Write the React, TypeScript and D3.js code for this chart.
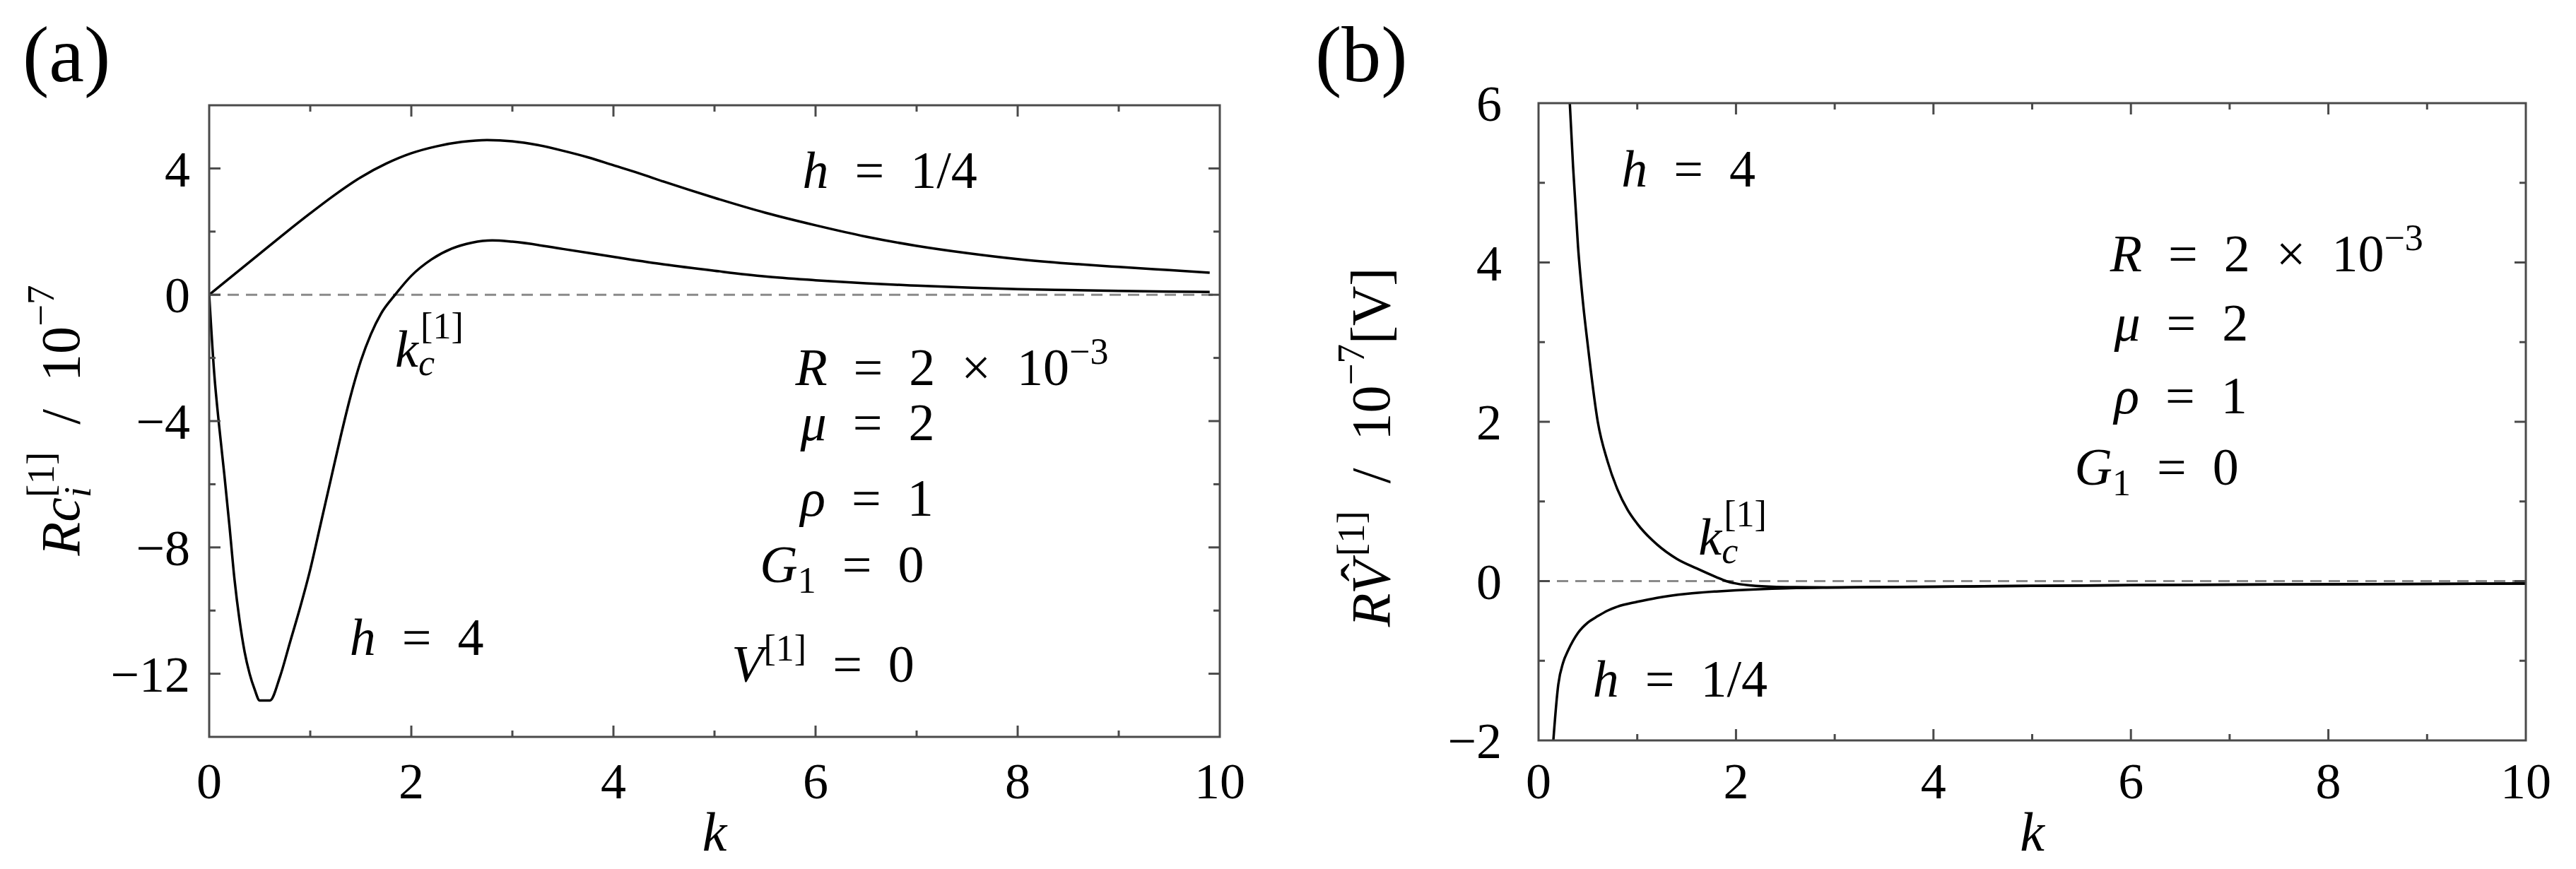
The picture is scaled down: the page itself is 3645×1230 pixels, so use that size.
import React from 'react';
import * as d3 from 'd3';

// axis ticks
const kTicks = [0, 2, 4, 6, 8, 10];
const kMinor = [1, 3, 5, 7, 9];
const aTicks = [4, 0, -4, -8, -12];
const aMinor = [2, -2, -6, -10];
const bTicks = [6, 4, 2, 0, -2];
const bMinor = [5, 3, 1, -1];

// (a) R c_i^[1] / 1e-7, h = 1/4
const kA1 = [0, 0.25, 0.5, 0.75, 1, 1.25, 1.5, 1.75, 2, 2.25, 2.5, 2.75, 3, 3.25, 3.5, 3.75, 4, 4.25, 4.5, 5, 5.5, 6, 6.5, 7, 7.5, 8, 8.5, 9, 9.5, 9.9];
const cA1 = [0, 0.65, 1.3, 1.95, 2.58, 3.18, 3.72, 4.15, 4.48, 4.7, 4.84, 4.9, 4.86, 4.74, 4.56, 4.35, 4.1, 3.85, 3.58, 3.07, 2.6, 2.2, 1.84, 1.55, 1.32, 1.13, 0.99, 0.88, 0.78, 0.7];

// (a) h = 4
const kA4 = [0, 0.05, 0.1, 0.15, 0.2, 0.25, 0.3, 0.35, 0.4, 0.45, 0.5, 0.6, 0.7, 0.8, 0.9, 1, 1.1, 1.2, 1.3, 1.4, 1.5, 1.6, 1.7, 1.84, 2, 2.2, 2.4, 2.6, 2.8, 3, 3.5, 4, 4.5, 5, 5.5, 6, 6.5, 7, 7.5, 8, 8.5, 9, 9.5, 9.9];
const cA4 = [0, -2.5, -4.2, -5.7, -7.3, -9.0, -10.3, -11.3, -12.0, -12.5, -12.85, -12.85, -12.1, -11.0, -9.9, -8.7, -7.3, -5.9, -4.5, -3.2, -2.1, -1.25, -0.6, 0, 0.6, 1.12, 1.46, 1.65, 1.72, 1.68, 1.45, 1.2, 0.96, 0.76, 0.58, 0.46, 0.36, 0.29, 0.23, 0.18, 0.15, 0.12, 0.1, 0.09];

// (b) R V^[1] / 1e-7, h = 4
const kB4 = [0.3, 0.35, 0.4, 0.45, 0.5, 0.6, 0.7, 0.8, 0.9, 1, 1.2, 1.4, 1.6, 1.8, 1.9, 2, 2.2, 2.5, 3, 4, 5, 6, 7, 8, 9, 10];
const vB4 = [6.4, 5.2, 4.2, 3.5, 2.95, 2.0, 1.5, 1.15, 0.9, 0.72, 0.46, 0.28, 0.16, 0.05, 0.0, -0.03, -0.06, -0.075, -0.08, -0.07, -0.06, -0.05, -0.045, -0.04, -0.035, -0.03];

// (b) h = 1/4
const kB1 = [0.13, 0.15, 0.2, 0.25, 0.3, 0.4, 0.5, 0.6, 0.7, 0.8, 1, 1.2, 1.5, 1.8, 2, 2.5, 3, 4, 5, 6, 7, 8, 9, 10];
const vB1 = [-2.35, -2.0, -1.3, -1.02, -0.87, -0.65, -0.52, -0.44, -0.37, -0.32, -0.26, -0.21, -0.16, -0.13, -0.115, -0.09, -0.08, -0.07, -0.06, -0.05, -0.045, -0.04, -0.035, -0.03];

const FONT = 'Liberation Serif, Times New Roman, serif';
const AX = '#4a4a4a';
const fmt = (v: number) => (v < 0 ? '\u2212' + Math.abs(v) : String(v));
const S = '\u2002';

const xA = d3.scaleLinear().domain([0, 10]).range([296, 1726]);
const yA = d3.scaleLinear().domain([-14, 6]).range([1043, 149]);
const xB = d3.scaleLinear().domain([0, 10]).range([2177, 3574]);
const yB = d3.scaleLinear().domain([-2, 6]).range([1048, 146]);

function curve(x: any, y: any, ks: number[], vs: number[]) {
  return d3.line<number>()
    .x((_, i) => x(ks[i]))
    .y(v => y(v))
    .curve(d3.curveMonotoneX)(vs) as string;
}

function Frame(props: any) {
  const { x, y, yTicks, yMinor, gap, clipId, children } = props;
  const [l, r] = x.range();
  const [b, t] = y.range();
  const [ylo, yhi] = y.domain();
  const MAJ = 16, MIN = 9;
  const inner = (v: number) => v > ylo && v < yhi;
  return (
    <g>
      <defs>
        <clipPath id={clipId}>
          <rect x={l} y={t} width={r - l} height={b - t} />
        </clipPath>
      </defs>
      <line x1={l} x2={r} y1={y(0)} y2={y(0)} stroke="#8a8a8a" strokeWidth={3} strokeDasharray="16 10" />
      <g clipPath={`url(#${clipId})`} fill="none" stroke="#000" strokeWidth={3.5}>
        {children}
      </g>
      <g stroke={AX} strokeWidth={3}>
        {kTicks.filter(k => k > 0 && k < 10).map(k => (
          <g key={'kx' + k}>
            <line x1={x(k)} x2={x(k)} y1={b} y2={b - MAJ} />
            <line x1={x(k)} x2={x(k)} y1={t} y2={t + MAJ} />
          </g>
        ))}
        {kMinor.map(k => (
          <g key={'km' + k}>
            <line x1={x(k)} x2={x(k)} y1={b} y2={b - MIN} />
            <line x1={x(k)} x2={x(k)} y1={t} y2={t + MIN} />
          </g>
        ))}
        {yTicks.filter(inner).map((v: number) => (
          <g key={'yt' + v}>
            <line x1={l} x2={l + MAJ} y1={y(v)} y2={y(v)} />
            <line x1={r} x2={r - MAJ} y1={y(v)} y2={y(v)} />
          </g>
        ))}
        {yMinor.map((v: number) => (
          <g key={'ym' + v}>
            <line x1={l} x2={l + MIN} y1={y(v)} y2={y(v)} />
            <line x1={r} x2={r - MIN} y1={y(v)} y2={y(v)} />
          </g>
        ))}
      </g>
      <rect x={l} y={t} width={r - l} height={b - t} fill="none" stroke={AX} strokeWidth={3} />
      <g fontSize={72} fill="#000">
        {kTicks.map(k => (
          <text key={'kl' + k} x={x(k)} y={1130} textAnchor="middle">{fmt(k)}</text>
        ))}
        {yTicks.map((v: number) => (
          <text key={'yl' + v} x={l - gap} y={y(v)} dy="0.35em" textAnchor="end">{fmt(v)}</text>
        ))}
      </g>
      <text x={(l + r) / 2} y={1204} fontSize={78} fontStyle="italic" textAnchor="middle">k</text>
    </g>
  );
}

function Eq({ x, y, lhs, sub, sup, rhs }: any) {
  return (
    <text x={x} y={y} fontSize={74}>
      <tspan fontStyle="italic">{lhs}</tspan>
      {sub && <tspan fontSize={52} dy={15}>{sub}</tspan>}
      {sup && <tspan fontSize={52} dy={-30}>{sup}</tspan>}
      <tspan dy={sub ? -15 : sup ? 30 : 0}>{S + '=' + S + rhs}</tspan>
    </text>
  );
}

function Rline({ x, y }: any) {
  return (
    <text x={x} y={y} fontSize={74}>
      <tspan fontStyle="italic">R</tspan>
      <tspan>{S + '=' + S + '2' + S + '\u00d7' + S + '10'}</tspan>
      <tspan fontSize={52} dy={-30}>{'\u22123'}</tspan>
    </text>
  );
}

function Kc({ x, y }: any) {
  return (
    <text x={x} y={y} fontSize={74}>
      <tspan fontStyle="italic">k</tspan>
      <tspan fontStyle="italic" fontSize={52} dy={12}>c</tspan>
      <tspan fontSize={52} dx={-20} dy={-52}>[1]</tspan>
    </text>
  );
}

export default function App() {
  return (
    <div style={{ position: 'absolute', left: 0, top: 0 }}>
      <svg width={3645} height={1230} viewBox="0 0 3645 1230" style={{ display: 'block', background: '#fff', fontFamily: FONT }}>
        <rect width={3645} height={1230} fill="#fff" />

        {/* panel (a) */}
        <text x={32} y={115} fontSize={112}>(a)</text>
        <Frame x={xA} y={yA} yTicks={aTicks} yMinor={aMinor} gap={27} clipId="clipA">
          <path d={curve(xA, yA, kA1, cA1)} />
          <path d={curve(xA, yA, kA4, cA4)} />
        </Frame>
        <text transform="translate(112,595) rotate(-90)" fontSize={78} textAnchor="middle">
          <tspan fontStyle="italic">Rc</tspan>
          <tspan fontStyle="italic" fontSize={55} dy={16}>i</tspan>
          <tspan fontSize={55} dx={-15} dy={-52}>[1]</tspan>
          <tspan dy={36}>{S + '/' + S + '10'}</tspan>
          <tspan fontSize={55} dy={-36}>{'\u22127'}</tspan>
        </text>
        <Eq x={xA(5.87)} y={yA(3.38)} lhs="h" rhs="1/4" />
        <Eq x={xA(1.39)} y={yA(-11.4)} lhs="h" rhs="4" />
        <Kc x={xA(1.84)} y={yA(-2.28)} />
        <Rline x={xA(5.8)} y={yA(-2.86)} />
        <Eq x={xA(5.85)} y={yA(-4.61)} lhs={'\u03bc'} rhs="2" />
        <Eq x={xA(5.85)} y={yA(-7.0)} lhs={'\u03c1'} rhs="1" />
        <Eq x={xA(5.45)} y={yA(-9.1)} lhs="G" sub="1" rhs="0" />
        <Eq x={xA(5.17)} y={yA(-12.26)} lhs="V" sup="[1]" rhs="0" />

        {/* panel (b) */}
        <text x={1861} y={115} fontSize={112}>(b)</text>
        <Frame x={xB} y={yB} yTicks={bTicks} yMinor={bMinor} gap={52} clipId="clipB">
          <path d={curve(xB, yB, kB4, vB4)} />
          <path d={curve(xB, yB, kB1, vB1)} />
        </Frame>
        <text transform="translate(1966,633) rotate(-90)" fontSize={78} textAnchor="middle">
          <tspan fontStyle="italic">R</tspan>
          <tspan fontStyle="italic">V</tspan>
          <tspan dx={-30} dy={-14}>{'\u02c6'}</tspan>
          <tspan fontSize={55} dx={10} dy={-22}>[1]</tspan>
          <tspan dy={36}>{S + '/' + S + '10'}</tspan>
          <tspan fontSize={55} dy={-36}>{'\u22127'}</tspan>
          <tspan dy={36}>[V]</tspan>
        </text>
        <Eq x={xB(0.84)} y={yB(4.95)} lhs="h" rhs="4" />
        <Eq x={xB(0.55)} y={yB(-1.45)} lhs="h" rhs="1/4" />
        <Kc x={xB(1.62)} y={yB(0.33)} />
        <Rline x={xB(5.79)} y={yB(3.89)} />
        <Eq x={xB(5.83)} y={yB(3.02)} lhs={'\u03bc'} rhs="2" />
        <Eq x={xB(5.83)} y={yB(2.11)} lhs={'\u03c1'} rhs="1" />
        <Eq x={xB(5.43)} y={yB(1.21)} lhs="G" sub="1" rhs="0" />
      </svg>
    </div>
  );
}
